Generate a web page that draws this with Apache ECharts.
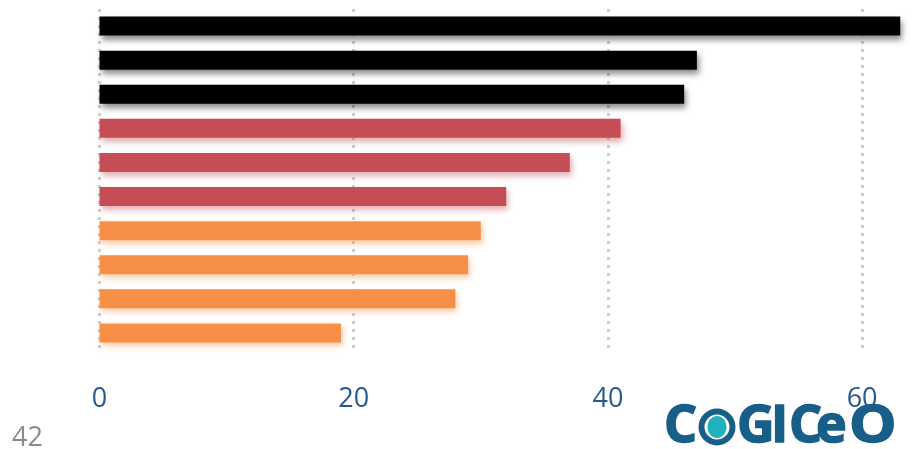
<!DOCTYPE html>
<html>
<head>
<meta charset="utf-8">
<script src="https://cdn.jsdelivr.net/npm/echarts@6/dist/echarts.min.js"></script>
<style>
  html, body { margin: 0; padding: 0; background: #fff; }
  #chart { width: 916px; height: 449px; }
</style>
</head>
<body>
<div id="chart"></div>
<script>
// Ten ranked items, top to bottom
const categories = ['1', '2', '3', '4', '5', '6', '7', '8', '9', '10'];
const values = [63, 47, 46, 41, 37, 32, 30, 29, 28, 19];
// Tier of each item (0 = top tier, 1 = middle, 2 = lower)
const tiers = [0, 0, 0, 1, 1, 1, 2, 2, 2, 2];
const xTicks = [0, 20, 40, 60, 80];
const pageNumber = '42';

const tierColors = ['#000000', '#c44d56', '#f79046'];
const tierShadows = ['rgba(0,0,0,0.45)', 'rgba(196,77,86,0.45)', 'rgba(247,144,70,0.45)'];

const chart = echarts.init(document.getElementById('chart'), null, { renderer: 'canvas' });

const logoColor = '#175e88';
const logoFont = 'bold 52px "Open Sans"';
function logoLetter(ch, x, sx) {
  return {
    type: 'text', x: x, y: 427, scaleX: sx || 1,
    style: {
      text: ch, fill: logoColor, font: logoFont, textVerticalAlign: 'middle',
      stroke: logoColor, lineWidth: 1.5
    }
  };
}

chart.setOption({
  animation: false,
  backgroundColor: '#ffffff',
  grid: {
    left: 99.5, top: 9, height: 341, width: 1016.8,
    containLabel: false, outerBoundsMode: 'none'
  },
  xAxis: {
    type: 'value',
    min: xTicks[0],
    max: xTicks[xTicks.length - 1],
    interval: xTicks[1] - xTicks[0],
    axisLine: { show: false },
    axisTick: { show: false },
    axisLabel: {
      color: '#255a8a',
      fontFamily: 'Open Sans',
      fontSize: 27,
      margin: 36
    },
    splitLine: {
      show: true,
      lineStyle: { color: '#cdcdcd', width: 3, type: [3, 5] }
    }
  },
  yAxis: {
    type: 'category',
    data: categories,
    inverse: true,
    axisLine: { show: false },
    axisTick: { show: false },
    axisLabel: { show: false },
    splitLine: { show: false }
  },
  series: [{
    type: 'bar',
    barWidth: 19,
    data: values.map((v, i) => ({
      value: v,
      itemStyle: {
        color: tierColors[tiers[i]],
        shadowColor: tierShadows[tiers[i]],
        shadowBlur: 6,
        shadowOffsetX: 2,
        shadowOffsetY: 4
      }
    }))
  }],
  graphic: [
    {
      type: 'text', left: 12, top: 425,
      style: { text: pageNumber, fill: '#8a8a8a', font: '27px "Open Sans"' }
    },
    // brand mark
    logoLetter('C', 664),
    { type: 'ring', shape: { cx: 717, cy: 427, r: 18.5, r0: 12.5 }, style: { fill: logoColor } },
    { type: 'ellipse', shape: { cx: 717, cy: 427, rx: 9.5, ry: 11 }, style: { fill: '#22b1bf' } },
    logoLetter('G', 737),
    logoLetter('I', 771),
    logoLetter('C', 789),
    logoLetter('e', 816),
    logoLetter('O', 849, 1.15)
  ]
});
</script>
</body>
</html>
